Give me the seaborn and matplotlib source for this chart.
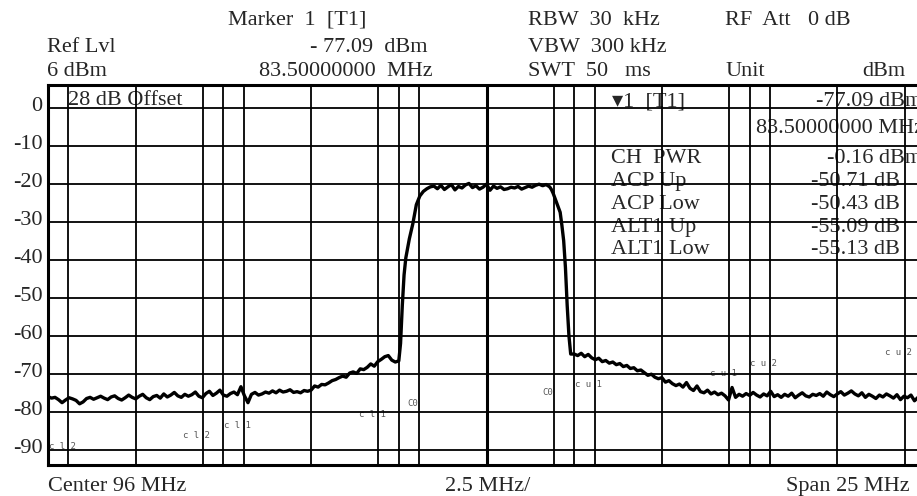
import numpy as np
import pandas as pd
import matplotlib
matplotlib.use("Agg")
import matplotlib.pyplot as plt
import matplotlib.transforms as mtransforms
import seaborn as sns

# ---- trace (MHz / dBm) ----
freq_low = np.round(np.linspace(83.5, 93.5, 101), 2)
level_low = [-76.0, -76.4, -76.2, -76.8, -77.6, -76.9, -76.3, -76.6, -77.0, -77.9, -77.4,
             -76.5, -76.2, -76.7, -76.3, -75.9, -76.4, -76.8, -76.1, -75.8, -76.5,
             -76.9, -76.3, -75.6, -76.2, -76.6, -75.9, -75.4, -76.3, -76.8, -76.0,
             -75.7, -76.4, -75.3, -76.1, -75.6, -74.9, -75.8, -76.2, -75.4, -75.9,
             -75.5, -74.8, -75.9, -76.3, -75.2, -74.6, -75.7, -75.1, -74.3, -75.6,
             -75.9, -75.2, -74.8, -75.5, -73.4, -75.8, -77.6, -75.4, -74.9, -75.6,
             -75.3, -74.8, -75.1, -74.5, -75.0, -74.3, -74.8, -74.6, -74.2, -74.9,
             -74.7, -75.0, -74.4, -74.6, -74.3, -73.2, -73.5, -72.8, -72.9, -72.4,
             -71.8, -71.5, -71.0, -70.6, -70.9, -69.8, -69.5, -69.9, -68.7, -68.9,
             -68.3, -67.4, -68.0, -66.8, -66.2, -65.5, -65.2, -66.4, -66.9, -66.6]

freq_rise = [93.55, 93.6, 93.65, 93.7, 93.8, 93.9, 94.0, 94.1, 94.2, 94.3, 94.4]
level_rise = [-62.0, -52.0, -44.0, -39.5, -34.5, -30.5, -25.5, -23.2, -22.0, -21.3, -20.8]

freq_top = np.round(np.linspace(94.5, 97.8, 34), 2)
level_top = [-20.6, -21.3, -20.4, -21.5, -20.8, -20.2, -21.6, -20.7, -21.1, -20.3,
             -19.9, -21.0, -20.5, -21.4, -20.9, -20.1, -21.7, -20.6, -21.2, -20.8,
             -21.5, -21.3, -20.9, -21.1, -20.7, -21.4, -21.0, -20.6, -20.9, -20.4,
             -20.1, -20.5, -20.2, -20.8]

freq_fall = [97.85, 97.9, 98.0, 98.1, 98.15, 98.2, 98.25, 98.3, 98.35, 98.4]
level_fall = [-21.5, -22.5, -25.0, -27.5, -31.0, -35.0, -42.0, -52.0, -60.0, -64.8]

freq_high = np.round(np.linspace(98.5, 108.5, 101), 2)
level_high = [-64.8, -65.2, -64.6, -65.5, -64.9, -65.8, -66.3, -65.9, -66.8, -66.5,
              -67.2, -66.9, -67.6, -67.3, -68.1, -67.8, -68.6, -68.4, -69.2, -69.0,
              -69.7, -70.4, -70.1, -70.9, -71.3, -71.0, -72.2, -71.8, -72.6, -73.1,
              -72.7, -73.5, -72.3, -73.8, -74.4, -73.2, -74.7, -75.0, -74.3, -75.3,
              -74.8, -75.5, -75.1, -75.8, -76.9, -73.6, -76.2, -75.4, -75.9, -75.2,
              -75.7, -74.9, -75.6, -76.1, -75.3, -75.8, -74.6, -76.0, -75.5, -76.2,
              -75.4, -75.9, -75.1, -76.3, -75.6, -75.0, -75.8, -76.1, -75.4, -75.7,
              -75.2, -75.9, -74.8, -75.5, -76.0, -75.3, -74.7, -75.6, -75.1, -74.5,
              -75.3, -75.8, -75.0, -76.2, -75.4, -75.9, -76.5, -75.6, -76.1, -75.3,
              -75.8, -76.4, -75.5, -76.8, -75.9, -76.3, -75.6, -77.1, -76.2, -76.6, -76.9]

# ---- channel edges (CH, ACP, ALT1) and their little labels ----
ch_edges = [84.08, 87.92, 89.08, 92.92, 94.08, 97.92, 99.08, 102.92, 104.08, 107.92]
ch_labels = ["c l 2", "c l 2", "c l 1", "c l 1", "C0", "C0", "c u 1", "c u 1", "c u 2", "c u 2"]
ch_label_levels = [-89.2, -86.3, -83.7, -80.8, -77.9, -75.0, -72.7, -70.0, -67.2, -64.3]

grid_freqs = [83.5, 86.0, 88.5, 91.0, 93.5, 96.0, 98.5, 101.0, 103.5, 106.0, 108.5]
level_ticks = [0, -10, -20, -30, -40, -50, -60, -70, -80, -90]

table_names = ["CH  PWR", "ACP Up", "ACP Low", "ALT1 Up", "ALT1 Low"]
table_values = ["-0.16 dBm", "-50.71 dB", "-50.43 dB", "-55.09 dB", "-55.13 dB"]
table_levels = [-13.4, -19.4, -25.4, -31.4, -37.2]

df = pd.DataFrame({
    "freq": np.concatenate([freq_low, freq_rise, freq_top, freq_fall, freq_high]),
    "level": np.concatenate([level_low, level_rise, level_top, level_fall, level_high]),
})

sns.set_theme(style="white")
serif = ["Liberation Serif", "DejaVu Serif"]
plt.rcParams["font.family"] = serif

W, H = 917, 496
fig = plt.figure(figsize=(W / 100, H / 100), dpi=100)
ax = fig.add_axes([48 / W, 31 / H, 877 / W, 380 / H])

sns.lineplot(data=df, x="freq", y="level", color="black", lw=2.4,
             estimator=None, ax=ax, zorder=5)

ax.set_xlim(83.5, 108.5)
ax.set_ylim(-94, 6)
ax.set_xticks(grid_freqs)
ax.set_xticklabels([])
ax.set_yticks(level_ticks)
ax.set_yticklabels([str(t) for t in level_ticks], fontsize=16)
ax.tick_params(length=0, pad=4)
ax.grid(True, color="black", lw=1.3)
ax.set_axisbelow(False)
ax.set_xlabel("")
ax.set_ylabel("")
for lab in ax.get_yticklabels():
    lab.set_transform(lab.get_transform() +
                      mtransforms.ScaledTranslation(0, 4 / 100, fig.dpi_scale_trans))
for side in ["left", "bottom", "top"]:
    ax.spines[side].set_color("black")
    ax.spines[side].set_linewidth(2.2)
ax.spines["right"].set_visible(False)

ax.axvline(96.0, color="black", lw=2.2, zorder=3)
for e in ch_edges:
    ax.axvline(e, color="black", lw=1.3, zorder=3)
for e, t, lv in zip(ch_edges, ch_labels, ch_label_levels):
    ax.text(e - 0.18, lv, t, ha="center", va="center", fontsize=6.5,
            family="DejaVu Sans Mono", color="#555555", zorder=1)

# text inside the screen
ax.text(84.06, 1.8, "28 dB Offset", fontsize=16, va="center", zorder=1)
ax.text(99.58, 1.6, "\u25be1  [T1]", fontsize=16, va="center",
        family=["Liberation Serif", "DejaVu Sans"], zorder=1)
ax.text(108.41, 1.6, "-77.09 dBm", fontsize=16, va="center", ha="right", zorder=1)
ax.text(108.47, -5.5, "83.50000000 MHz", fontsize=16, va="center", ha="right", zorder=1)
for name, val, lv in zip(table_names, table_values, table_levels):
    ax.text(99.55, lv, name, fontsize=16, va="center", zorder=1)
    xr = 108.41 if val.endswith("dBm") else 107.79
    ax.text(xr, lv, val, fontsize=16, va="center", ha="right", zorder=1)

# header and footer of the screen
def put(x, y, s, ha="left"):
    fig.text(x / W, 1 - y / H, s, fontsize=16, ha=ha, va="baseline")

put(228, 25, "Marker  1  [T1]")
put(47, 52, "Ref Lvl")
put(427, 52, "- 77.09  dBm", ha="right")
put(47, 76, "6 dBm")
put(433, 76, "83.50000000  MHz", ha="right")
put(528, 25, "RBW  30  kHz")
put(725, 25, "RF  Att")
put(808, 25, "0 dB")
put(528, 52, "VBW  300 kHz")
put(528, 76, "SWT  50   ms")
put(725, 76, "Unit")
put(905, 76, "dBm", ha="right")
put(48, 491, "Center 96 MHz")
put(445, 491, "2.5 MHz/")
put(910, 491, "Span 25 MHz", ha="right")

fig.savefig("out.png", dpi=100)
